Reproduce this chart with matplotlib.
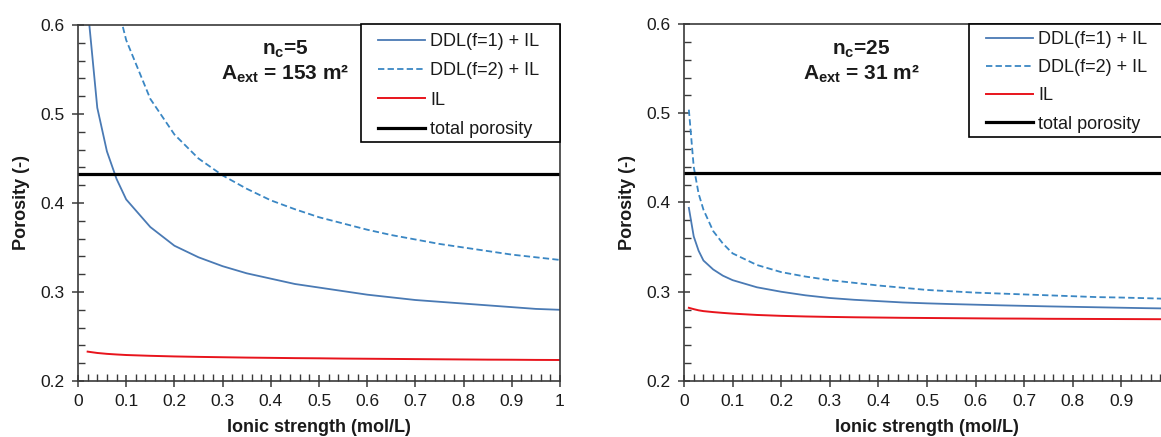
import matplotlib
matplotlib.use("Agg")
import matplotlib.pyplot as plt
from matplotlib.ticker import MultipleLocator, FuncFormatter
from matplotlib.patches import Rectangle

plt.rcParams['font.family'] = ['Liberation Sans', 'DejaVu Sans']
plt.rcParams['mathtext.fontset'] = 'custom'
plt.rcParams['mathtext.rm'] = 'Liberation Sans'
plt.rcParams['mathtext.bf'] = 'Liberation Sans:bold'
plt.rcParams['mathtext.it'] = 'Liberation Sans:italic'

# ---- Data: left panel (n_c = 5) ----
x5 = [0.02, 0.04, 0.06, 0.08, 0.10, 0.15, 0.20, 0.25, 0.30, 0.35, 0.40, 0.45, 0.50,
      0.55, 0.60, 0.65, 0.70, 0.75, 0.80, 0.85, 0.90, 0.95, 1.00]
il5 = [0.233, 0.2315, 0.2305, 0.2298, 0.2292, 0.2283, 0.2276, 0.2271, 0.2267, 0.2263,
       0.2260, 0.2257, 0.2255, 0.2252, 0.2250, 0.2248, 0.2246, 0.2244, 0.2242, 0.2240,
       0.2239, 0.2237, 0.2236]
ddl1_5 = [0.62, 0.507, 0.458, 0.427, 0.404, 0.373, 0.352, 0.339, 0.329, 0.321, 0.315,
          0.309, 0.305, 0.301, 0.297, 0.294, 0.291, 0.289, 0.287, 0.285, 0.283, 0.281, 0.280]
ddl2_5 = [1.02, 0.790, 0.687, 0.626, 0.583, 0.517, 0.477, 0.450, 0.431, 0.416, 0.403,
          0.393, 0.384, 0.377, 0.370, 0.364, 0.359, 0.354, 0.350, 0.346, 0.342, 0.339, 0.336]

# ---- Data: right panel (n_c = 25) ----
x25 = [0.01, 0.02, 0.03, 0.04, 0.06, 0.08, 0.10, 0.15, 0.20, 0.25, 0.30, 0.35, 0.40,
       0.45, 0.50, 0.55, 0.60, 0.65, 0.70, 0.75, 0.80, 0.85, 0.90, 0.95, 1.00]
il25 = [0.282, 0.2805, 0.2792, 0.2783, 0.2772, 0.2763, 0.2755, 0.2740, 0.2730, 0.2723,
        0.2718, 0.2714, 0.2711, 0.2708, 0.2706, 0.2704, 0.2702, 0.2700, 0.2699, 0.2697,
        0.2696, 0.2695, 0.2694, 0.2693, 0.2692]
ddl1_25 = [0.394, 0.362, 0.346, 0.335, 0.325, 0.318, 0.313, 0.305, 0.300, 0.296, 0.293,
           0.291, 0.2895, 0.288, 0.287, 0.2862, 0.2855, 0.2848, 0.2842, 0.2836, 0.2831,
           0.2826, 0.2821, 0.2816, 0.2812]
ddl2_25 = [0.504, 0.440, 0.410, 0.392, 0.368, 0.354, 0.343, 0.330, 0.322, 0.317, 0.313,
           0.310, 0.307, 0.3045, 0.302, 0.3005, 0.299, 0.298, 0.297, 0.296, 0.295,
           0.294, 0.2935, 0.2928, 0.292]

total_porosity = 0.433

labels = ["DDL(f=1) + IL", "DDL(f=2) + IL", "IL", "total porosity"]
xtick_vals = [0, 0.1, 0.2, 0.3, 0.4, 0.5, 0.6, 0.7, 0.8, 0.9, 1.0]
ytick_vals = [0.2, 0.3, 0.4, 0.5, 0.6]

C_DDL1 = "#4a7ab4"
C_DDL2 = "#3a87c4"
C_IL = "#e8141c"
C_TOT = "#000000"
SPINE = "#3a3a3a"
TXT = "#1a1a1a"

W, H = 1161, 437
fig = plt.figure(figsize=(W / 100, H / 100), dpi=100)

panels = [
    dict(rect=[78 / W, 1 - 381 / H, 482 / W, 356 / H], x=x5, il=il5, d1=ddl1_5, d2=ddl2_5,
         t1=r"$\mathbf{n_c}$=5", t2=r"$\mathbf{A_{ext}}$ = 153 m²", tx=285, ylab_x=22,
         box=(361, 24, 560, 142), hx=378, ly=33, lsp=0.68),
    dict(rect=[684 / W, 1 - 381 / H, 486 / W, 357 / H], x=x25, il=il25, d1=ddl1_25, d2=ddl2_25,
         t1=r"$\mathbf{n_c}$=25", t2=r"$\mathbf{A_{ext}}$ = 31 m²", tx=861, ylab_x=628,
         box=(969, 24, 1170, 137), hx=986, ly=31, lsp=0.62),
]

for p in panels:
    ax = fig.add_axes(p["rect"])
    ax.plot(p["x"], p["d1"], color=C_DDL1, lw=1.3, label=labels[0])
    ax.plot(p["x"], p["d2"], color=C_DDL2, lw=1.3, ls=(0, (3.5, 1.8)), label=labels[1])
    ax.plot(p["x"], p["il"], color=C_IL, lw=1.4, label=labels[2])
    ax.axhline(total_porosity, color=C_TOT, lw=2.3, label=labels[3])
    ax.set_xlim(0, 1)
    ax.set_ylim(0.2, 0.6)
    ax.set_xticks(xtick_vals)
    ax.set_yticks(ytick_vals)
    ax.xaxis.set_minor_locator(MultipleLocator(0.02))
    ax.yaxis.set_minor_locator(MultipleLocator(0.02))
    ax.xaxis.set_major_formatter(FuncFormatter(lambda v, pos: f"{v:g}"))
    ax.yaxis.set_major_formatter(FuncFormatter(lambda v, pos: f"{v:.1f}"))
    ax.tick_params(which="major", direction="inout", length=9, width=1.1, color=SPINE,
                   labelsize=12.5, labelcolor=TXT, pad=5)
    ax.tick_params(which="minor", direction="in", length=5, width=1.0, color=SPINE)
    for s in ax.spines.values():
        s.set_color(SPINE)
        s.set_linewidth(1.2)
    ax.set_xlabel("Ionic strength (mol/L)", fontsize=13, fontweight="bold", color=TXT)
    ax.set_ylabel("Porosity (-)", fontsize=13, fontweight="bold", color=TXT)
    x0 = p["rect"][0] + p["rect"][2] / 2
    ax.xaxis.set_label_coords(x0, 1 - 428 / H, transform=fig.transFigure)
    ax.yaxis.set_label_coords(p["ylab_x"] / W, 1 - 203 / H, transform=fig.transFigure)
    ax.xaxis.label.set_va("center")
    ax.yaxis.label.set_va("center")

    # legend box (frame drawn separately)
    bx0, by0, bx1, by1 = p["box"]
    fig.patches.append(Rectangle((bx0 / W, 1 - by1 / H), (bx1 - bx0) / W, (by1 - by0) / H,
                                 transform=fig.transFigure, fill=True, facecolor="white",
                                 edgecolor="black", lw=1.2, zorder=5))
    leg = fig.legend(*ax.get_legend_handles_labels(), loc="upper left",
                     bbox_to_anchor=(p["hx"] / W, 1 - p["ly"] / H),
                     bbox_transform=fig.transFigure, frameon=False, borderpad=0,
                     borderaxespad=0, fontsize=13, handlelength=2.6, handletextpad=0.3,
                     labelspacing=p["lsp"])
    leg.set_zorder(6)
    for t in leg.get_texts():
        t.set_color(TXT)
    fig.text(p["tx"] / W, 1 - 49 / H, p["t1"], fontsize=15, fontweight="bold",
             ha="center", va="center", color=TXT)
    fig.text(p["tx"] / W, 1 - 74 / H, p["t2"], fontsize=15, fontweight="bold",
             ha="center", va="center", color=TXT)

fig.savefig("out.png", dpi=100)
